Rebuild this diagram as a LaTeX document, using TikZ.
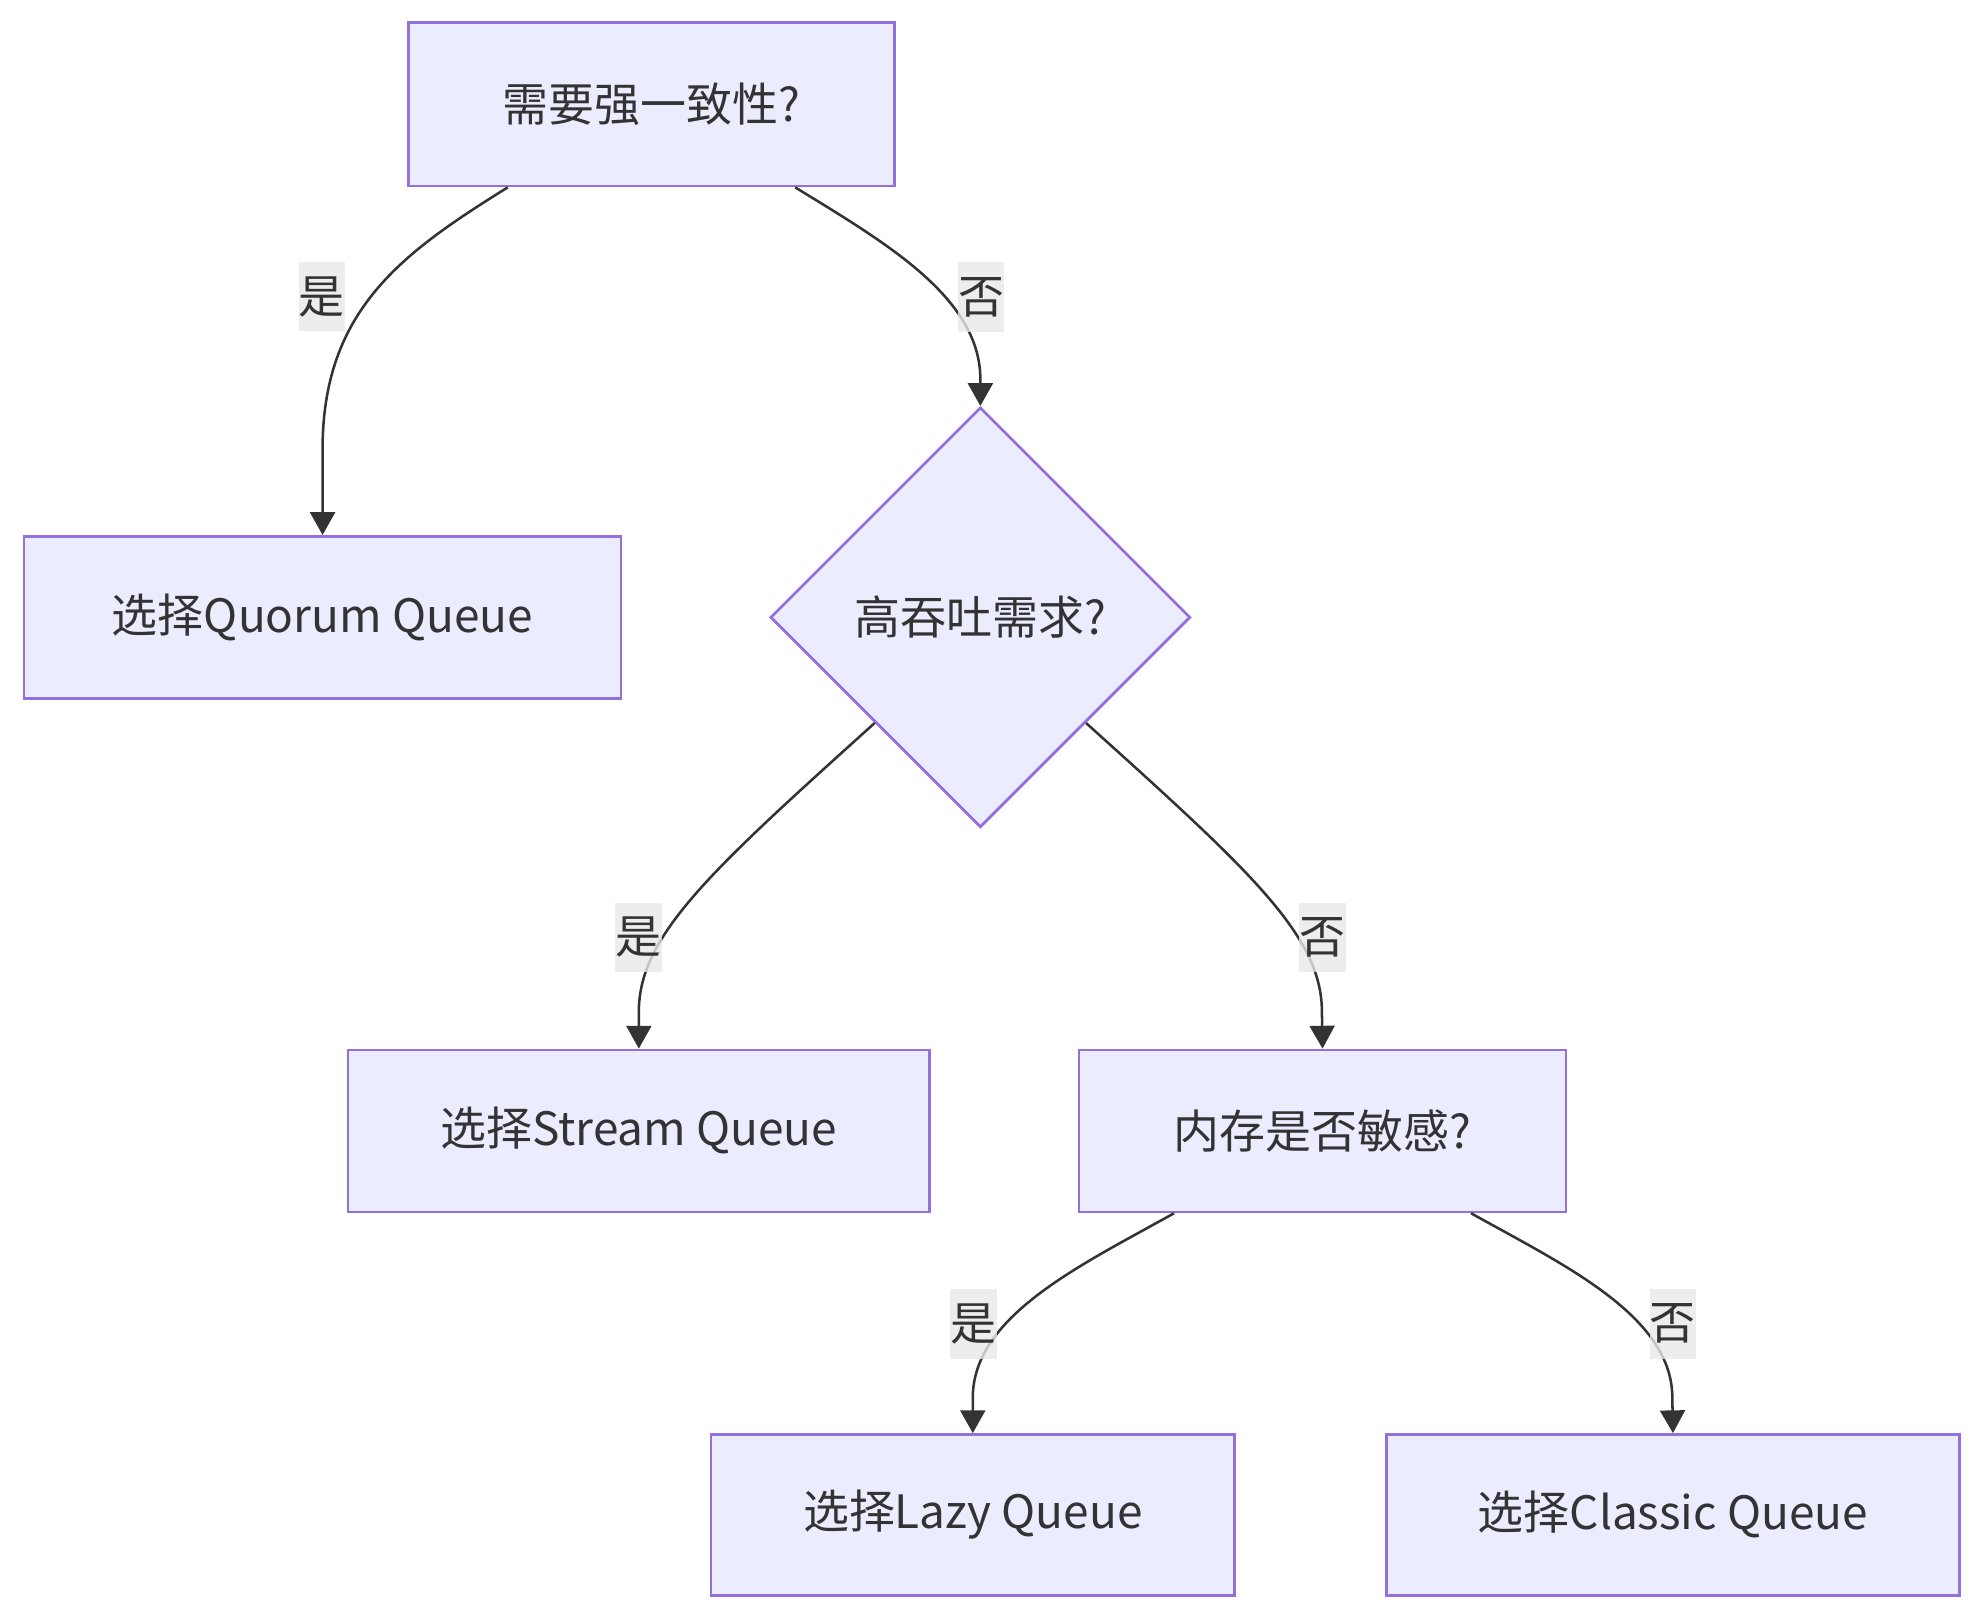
\documentclass[tikz,border=0pt]{standalone}
\usepackage{fontspec}
\setmainfont{Noto Sans CJK SC}
\usepackage{tikz}
\usetikzlibrary{shapes.geometric, arrows.meta, calc}
\usepackage{xcolor}
\definecolor{nodefill}{HTML}{ECECFF}
\definecolor{nodeline}{HTML}{9370DB}
\definecolor{inkgray}{HTML}{333333}
\definecolor{labelbg}{HTML}{E8E8E8}

\begin{document}
\begin{tikzpicture}[x=0.3pt, y=-0.3pt,
    box/.style={draw=nodeline, fill=nodefill, line width=0.65pt, text=inkgray, minimum height=38.4pt, inner sep=0pt, font=\fontsize{10.9pt}{13pt}\selectfont},
    choice/.style={box, shape=diamond, aspect=1, minimum width=99.6pt, minimum height=99.6pt},
    lbl/.style={fill=labelbg, fill opacity=0.8, text opacity=1, text=inkgray, inner sep=0pt, minimum width=11.1pt, minimum height=16.5pt, font=\fontsize{10.9pt}{13pt}\selectfont},
    flow/.style={draw=inkgray, line width=0.6pt, -{Triangle[length=5.4pt, width=5.9pt]}}]
    \useasboundingbox (0,0) rectangle (1567.6,1280.6);
    % nodes
    \node[box, minimum width=115.2pt, minimum height=38.7pt] (strong) at (515,82.5) {需要强一致性?};
    \node[box, minimum width=141.6pt] (quorum) at (255,488) {选择Quorum Queue};
    \node[choice] (throughput) at (775,488) {高吞吐需求?};
    \node[box, minimum width=138pt] (stream) at (505,894) {选择Stream Queue};
    \node[box, minimum width=115.5pt] (memory) at (1045.5,894) {内存是否敏感?};
    \node[box, minimum width=124.2pt, minimum height=38.1pt] (lazy) at (769,1197.5) {选择Lazy Queue};
    \node[box, minimum width=135.9pt, minimum height=38.1pt] (classic) at (1322.5,1197.5) {选择Classic Queue};
    % edges
    \draw[flow] (strong.210) .. controls (318,200) and (255,245) .. (255,355) -- (quorum.north);
    \draw[flow] (strong.330) .. controls (700,192) and (775,235) .. (775,300) -- (throughput.north);
    \draw[flow] (throughput.225) .. controls (560,690) and (505,740) .. (505,800) -- (stream.north);
    \draw[flow] (throughput.315) .. controls (990,690) and (1045,740) .. (1045,800) -- (memory.north);
    \draw[flow] (memory.209) .. controls (855,1000) and (769,1040) .. (769,1105) -- (lazy.north);
    \draw[flow] (memory.331) .. controls (1236,1000) and (1322,1040) .. (1322,1105) -- (classic.north);
    % edge labels
    \node[lbl] (yes1) at (254.5,234.5) {是};
    \node[lbl] (no1) at (775.5,235) {否};
    \node[lbl] (yes2) at (505,741) {是};
    \node[lbl] (no2) at (1045.5,741) {否};
    \node[lbl] (yes3) at (769.5,1046.5) {是};
    \node[lbl] (no3) at (1322.5,1046.5) {否};
\end{tikzpicture}
\end{document}
